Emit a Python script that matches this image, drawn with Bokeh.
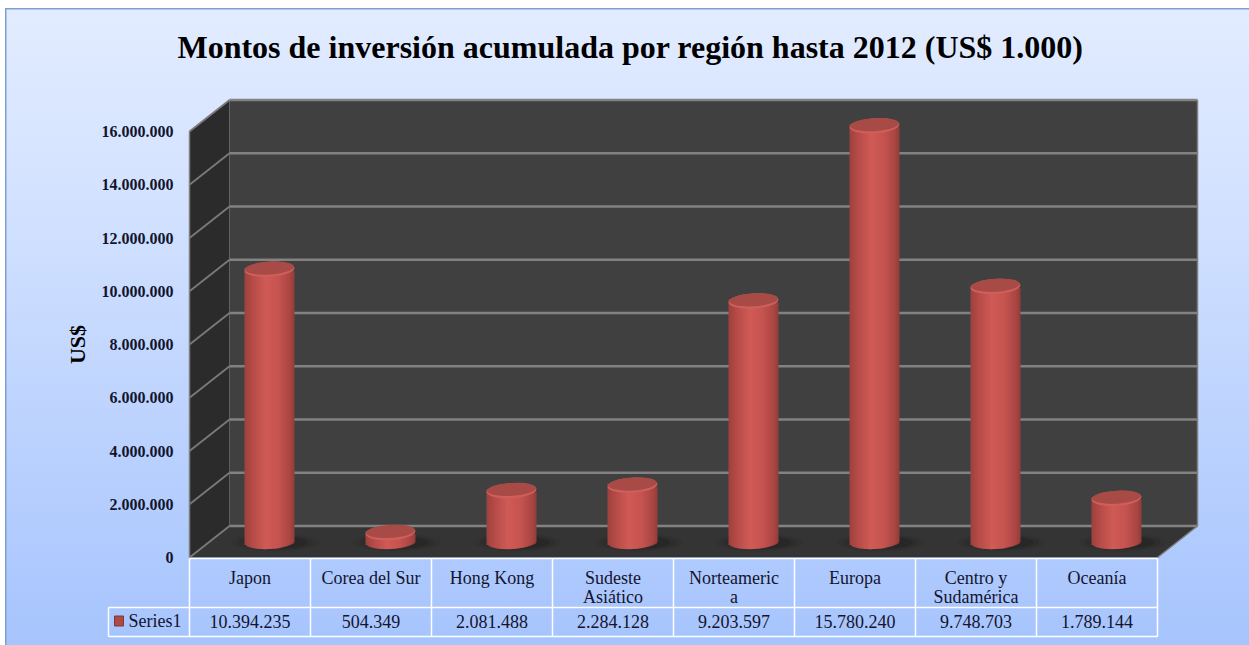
from bokeh.plotting import figure
from bokeh.models import LinearAxis, FixedTicker, Range1d, Label
from bokeh.core.properties import value
from bokeh.embed import file_html
from bokeh.resources import INLINE
import math

title = "Montos de inversión acumulada por región hasta 2012 (US$ 1.000)"
categories = ["Japon", "Corea del Sur", "Hong Kong", "Sudeste\nAsiático", "Norteameric\na", "Europa", "Centro y\nSudamérica", "Oceanía"]
values = [10394235, 504349, 2081488, 2284128, 9203597, 15780240, 9748703, 1789144]
value_labels = ["10.394.235", "504.349", "2.081.488", "2.284.128", "9.203.597", "15.780.240", "9.748.703", "1.789.144"]
tick_values = [0, 2000000, 4000000, 6000000, 8000000, 10000000, 12000000, 14000000, 16000000]
tick_labels = ["0", "2.000.000", "4.000.000", "6.000.000", "8.000.000", "10.000.000", "12.000.000", "14.000.000", "16.000.000"]
series_name = "Series1"
y_title = "US$"

FONT = "Liberation Serif"
TEXT = "#14142e"

# scale: pixels per x unit / per y unit
PX = 121.0
PY = 426.0 / 16000000
W, H = 1244, 637
X0 = -0.5 - (189 - 5) / PX
X1 = X0 + W / PX
Y0 = -(645 - 557) / PY
Y1 = Y0 + H / PY
dx = lambda n: n / PX
dy = lambda n: n / PY
DX, DY = dx(40), dy(31.5)
L, R, T = -0.5, 7.5, 16000000

p = figure(width=W, height=H, x_axis_type=None, y_axis_type=None,
           x_range=Range1d(X0, X1), y_range=Range1d(Y0, Y1), toolbar_location=None, tools="",
           output_backend="svg", min_border=0, min_border_top=0, min_border_bottom=0, min_border_left=0, min_border_right=0)
p.styles = {"background": "linear-gradient(180deg,#e2ecff 0%,#d3e2ff 30%,#a6c4fd 100%)",
            "box-shadow": "inset 1.5px 1.5px 0 0 #7f9fd2", "margin-left": "5px", "margin-top": "8px"}
p.border_fill_alpha = 0
p.background_fill_alpha = 0
p.outline_line_alpha = 0

p.add_layout(Label(x=X0 + dx(625), y=Y0 + dy(645 - 46), text=title, text_align="center", text_baseline="middle",
                   text_font=FONT, text_font_size="32px", text_font_style="bold", text_color="#000000"))

# walls
p.patch([L, L + DX, L + DX, L], [0, DY, T + DY, T], fill_color="#2b2b2b", line_color=None)
p.quad(left=[L + DX], right=[R + DX], bottom=[DY], top=[T + DY], fill_color="#404040", line_color=None)
p.patch([L, L + DX, R + DX, R], [0, DY, DY, 0], fill_color="#343434", line_color=None)

# gridlines
p.segment(x0=[L + DX] * len(tick_values), x1=[R + DX] * len(tick_values), y0=[v + DY for v in tick_values],
          y1=[v + DY for v in tick_values], line_color="#828282", line_width=2.4)
p.segment(x0=[L] * len(tick_values), x1=[L + DX] * len(tick_values), y0=tick_values,
          y1=[v + DY for v in tick_values], line_color="#7a7a7a", line_width=1.8)
p.segment(x0=[L, R + DX, R + DX], x1=[L, R + DX, R], y0=[0, DY, DY], y1=[T, T + DY, 0], line_color="#7f7f7f", line_width=1.5)

# bars
BASE = dy(16)
TOP_SHIFT = dy(11.5)
CX = dx(19.5)
HW = 25
HH = 7.5
stops = [(-1, (156, 66, 62)), (-0.7, (180, 74, 70)), (-0.15, (208, 90, 86)), (0.35, (198, 84, 80)), (0.8, (170, 70, 67)), (1, (146, 60, 57))]

def shade(u):
    for (a, ca), (b, cb) in zip(stops, stops[1:]):
        if a <= u <= b:
            t = (u - a) / (b - a)
            return "#%02x%02x%02x" % tuple(round(x + (y - x) * t) for x, y in zip(ca, cb))
    return "#8c3a37"

for i, v in enumerate(values):
    c = i + CX
    for grow, a in [(1.6, 0.05), (1.35, 0.08), (1.12, 0.12)]:
        p.ellipse(x=[c + dx(6)], y=[BASE - dy(1)], width=dx(2 * HW * grow + 8), height=dy(2 * HH * grow * 0.75),
                  fill_color="#000000", fill_alpha=a, line_color=None)
    left, right, top, bottom, colors = [], [], [], [], []
    n = HW
    top_y = v + TOP_SHIFT
    for k in range(n):
        u0 = -1 + 2 * k / n
        u1 = -1 + 2 * (k + 1) / n
        um = (u0 + u1) / 2
        left.append(c + dx(HW * u0))
        right.append(c + dx(min(HW, HW * u1 + 1.2)))
        top.append(top_y + dy(-um * 1.5))
        bottom.append(BASE - dy(HH * math.sqrt(max(0, 1 - um * um)) - um * 1.5))
        colors.append(shade(um))
    p.quad(left=left, right=right, top=top, bottom=bottom, fill_color=colors, line_color=None)
    p.ellipse(x=[c], y=[top_y], width=dx(2 * HW), height=dy(2 * HH), angle=0.06,
              fill_color="#cf5f5b", line_color=None)
    p.ellipse(x=[c], y=[top_y + dy(1.2)], width=dx(2 * HW - 1), height=dy(2 * HH - 2), angle=0.06,
              fill_color="#a84a46", line_color=None)

# data table
ROW0, ROW1, ROW2 = -dy(1), -dy(50), -dy(79)
HEAD_L = L - dx(81)
p.segment(x0=[L, HEAD_L, HEAD_L], x1=[R, R, R], y0=[ROW0, ROW1, ROW2], y1=[ROW0, ROW1, ROW2], line_color="#ffffff", line_width=1.6)
vx = [L + k for k in range(len(categories) + 1)]
p.segment(x0=vx, x1=vx, y0=[ROW0] * len(vx), y1=[ROW2] * len(vx), line_color="#ffffff", line_width=1.5)
p.segment(x0=[HEAD_L], x1=[HEAD_L], y0=[ROW1], y1=[ROW2], line_color="#ffffff", line_width=1.5)

cat_x, cat_y, cat_t = [], [], []
for i, name in enumerate(categories):
    for j, line in enumerate(name.split("\n")):
        cat_x.append(i)
        cat_y.append(-dy(20 + 19.5 * j))
        cat_t.append(line)
common = dict(text_font=value(FONT), text_color=TEXT, text_baseline="middle")
p.text(x=cat_x, y=cat_y, text=cat_t, text_align="center", text_font_size="18px", **common)
p.text(x=list(range(len(values))), y=[-dy(63.5)] * len(values), text=value_labels, text_align="center", text_font_size="18px", **common)
p.text(x=[HEAD_L + dx(20)], y=[-dy(63.5)], text=[series_name], text_align="left", text_font_size="18px", **common)
p.quad(left=[HEAD_L + dx(6)], right=[HEAD_L + dx(15)], bottom=[-dy(68.5)], top=[-dy(58.5)], fill_color="#b04845", line_color="#7a3a3a", line_width=1)

axis = LinearAxis(ticker=FixedTicker(ticks=tick_values), fixed_location=L, axis_label=y_title, bounds=(0, T),
                  major_label_overrides={t: s for t, s in zip(tick_values, tick_labels)})
axis.axis_line_color = None
axis.major_tick_line_color = None
axis.minor_tick_line_color = None
axis.major_label_standoff = 10
axis.major_label_text_font = FONT
axis.major_label_text_font_size = "16px"
axis.major_label_text_font_style = "bold"
axis.major_label_text_color = TEXT
axis.axis_label_text_font = FONT
axis.axis_label_text_font_size = "22px"
axis.axis_label_text_font_style = "bold"
axis.axis_label_text_color = "#000000"
axis.axis_label_standoff = 9
p.add_layout(axis, "left")

open("out.html", "w").write(file_html(p, INLINE))
